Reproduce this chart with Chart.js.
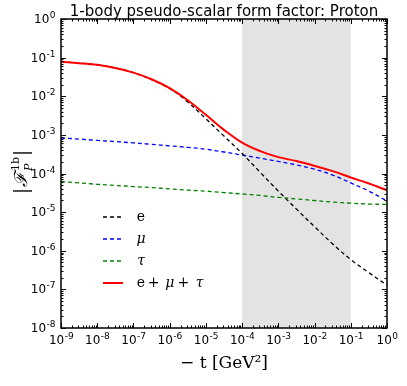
<!DOCTYPE html>
<html>
<head>
<meta charset="utf-8">
<script src="https://cdn.jsdelivr.net/npm/chart.js@4.4.1/dist/chart.umd.min.js"></script>
<style>
html,body{margin:0;padding:0;background:#fff;}
</style>
</head>
<body>
<canvas id="formFactor" width="407" height="386"></canvas>
<script>
// -t in GeV^2, half decade steps
const tValues = [1e-9, 3.16e-9, 1e-8, 3.16e-8, 1e-7, 3.16e-7, 1e-6, 3.16e-6, 1e-5, 3.16e-5,
                 1e-4, 3.16e-4, 1e-3, 3.16e-3, 1e-2, 3.16e-2, 1e-1, 3.16e-1, 1];
const electron = [7.8e-2, 7.2e-2, 6.5e-2, 5.4e-2, 4.1e-2, 2.7e-2, 1.58e-2, 7.1e-3, 2.6e-3, 9.3e-4,
                  3.3e-4, 1.07e-4, 3.5e-5, 1.2e-5, 4.2e-6, 1.5e-6, 5.9e-7, 2.7e-7, 1.29e-7];
const muon = [8.3e-4, 7.8e-4, 7.2e-4, 6.7e-4, 6.2e-4, 5.7e-4, 5.2e-4, 4.75e-4, 4.25e-4, 3.6e-4,
              3.0e-4, 2.5e-4, 2.05e-4, 1.66e-4, 1.29e-4, 9.1e-5, 5.7e-5, 3.5e-5, 1.95e-5];
const tauLep = [6.2e-5, 5.7e-5, 5.25e-5, 4.9e-5, 4.6e-5, 4.3e-5, 4.0e-5, 3.7e-5, 3.5e-5, 3.2e-5,
                2.95e-5, 2.7e-5, 2.4e-5, 2.2e-5, 2.0e-5, 1.82e-5, 1.7e-5, 1.62e-5, 1.58e-5];
const total = [7.8e-2, 7.2e-2, 6.5e-2, 5.4e-2, 4.1e-2, 2.75e-2, 1.62e-2, 7.9e-3, 3.3e-3, 1.35e-3,
               6.3e-4, 3.8e-4, 2.65e-4, 2.1e-4, 1.58e-4, 1.15e-4, 7.9e-5, 5.5e-5, 3.7e-5];
const xTicks = [1e-9, 1e-8, 1e-7, 1e-6, 1e-5, 1e-4, 1e-3, 1e-2, 1e-1, 1];
const yTicks = [1e-8, 1e-7, 1e-6, 1e-5, 1e-4, 1e-3, 1e-2, 1e-1, 1];
const bandFrom = 1e-4, bandTo = 1e-1;

const pts = arr => tValues.map((t, i) => ({x: t, y: arr[i]}));

function drawPow(ctx, v, x, y, align) {
  // "10" with raised exponent
  const e = String(Math.round(Math.log10(v)));
  ctx.font = '12px "DejaVu Sans"';
  const w1 = ctx.measureText('10').width;
  ctx.font = '9px "DejaVu Sans"';
  const w2 = ctx.measureText(e).width;
  let x0 = align === 'center' ? x - (w1 + w2) / 2 : x - (w1 + w2);
  ctx.textAlign = 'left';
  ctx.textBaseline = 'alphabetic';
  ctx.font = '12px "DejaVu Sans"';
  ctx.fillText('10', x0, y);
  ctx.font = '9px "DejaVu Sans"';
  ctx.fillText(e, x0 + w1 + 0.5, y - 5);
}

const decor = {
  id: 'decor',
  beforeDatasetsDraw(chart) {
    const {ctx, chartArea: a, scales: {x}} = chart;
    const x0 = x.getPixelForValue(bandFrom), x1 = x.getPixelForValue(bandTo);
    ctx.save();
    ctx.fillStyle = '#e3e3e3';
    ctx.fillRect(x0, a.top, x1 - x0, a.bottom - a.top);
    ctx.restore();
  },
  afterDraw(chart) {
    const {ctx, chartArea: a, scales: {x, y}} = chart;
    ctx.save();
    ctx.strokeStyle = '#000';
    ctx.lineWidth = 1;
    // minor + major ticks, inward, all sides
    ctx.beginPath();
    for (let d = 1e-9; d <= 1.01; d *= 10) {
      for (let k = 1; k <= 9; k++) {
        const v = d * k;
        if (v > 1.0001) break;
        const px = Math.round(x.getPixelForValue(v)) + 0.5, len = k === 1 ? 5 : 2.5;
        ctx.moveTo(px, a.bottom); ctx.lineTo(px, a.bottom - len);
        ctx.moveTo(px, a.top); ctx.lineTo(px, a.top + len);
      }
    }
    for (let d = 1e-8; d <= 1.01; d *= 10) {
      for (let k = 1; k <= 9; k++) {
        const v = d * k;
        if (v > 1.0001) break;
        const py = Math.round(y.getPixelForValue(v)) + 0.5, len = k === 1 ? 5 : 2.5;
        ctx.moveTo(a.left, py); ctx.lineTo(a.left + len, py);
        ctx.moveTo(a.right, py); ctx.lineTo(a.right - len, py);
      }
    }
    ctx.stroke();
    ctx.lineWidth = 1.5;
    ctx.strokeRect(a.left, a.top, a.right - a.left, a.bottom - a.top);

    // tick labels
    ctx.fillStyle = '#000';
    xTicks.forEach(v => drawPow(ctx, v, x.getPixelForValue(v), a.bottom + 16, 'center'));
    yTicks.forEach(v => drawPow(ctx, v, a.left - 6, y.getPixelForValue(v) + 4, 'right'));

    // title
    ctx.font = '15px "DejaVu Sans"';
    ctx.textAlign = 'center';
    ctx.fillText('1-body pseudo-scalar form factor: Proton', (a.left + a.right) / 2, 16);

    // x title
    ctx.font = '17px "DejaVu Serif"';
    ctx.fillText('\u2212 t [GeV\u00b2]', (a.left + a.right) / 2, 368);

    // y title, rotated
    ctx.save();
    ctx.translate(27, (a.top + a.bottom) / 2);
    ctx.rotate(-Math.PI / 2);
    const parts = [
      ['|', '18px "DejaVu Serif"', 0],
      ['\u2131', 'italic 18px "DejaVu Serif"', 0],
      ['1b', '11px "DejaVu Serif"', -8],
      ['|', '18px "DejaVu Serif"', 0]
    ];
    let wTot = 0;
    parts.forEach(p => { ctx.font = p[1]; wTot += ctx.measureText(p[0]).width; });
    let cx = -wTot / 2;
    ctx.textAlign = 'left';
    parts.forEach((p, i) => {
      ctx.font = p[1];
      ctx.fillText(p[0], cx, p[2]);
      const w = ctx.measureText(p[0]).width;
      if (i === 2) {
        ctx.font = 'italic 11px "DejaVu Serif"';
        ctx.fillText('P', cx, 5);
      }
      cx += w + 1;
    });
    ctx.restore();

    // legend inside plot
    chart.data.datasets.forEach((ds, i) => {
      const ly = a.top + 198 + i * 22;
      const lx = a.left + 42;
      ctx.beginPath();
      ctx.strokeStyle = ds.borderColor;
      ctx.lineWidth = ds.borderWidth;
      ctx.setLineDash(ds.borderDash || []);
      ctx.moveTo(lx, ly); ctx.lineTo(lx + 20, ly);
      ctx.stroke();
      ctx.setLineDash([]);
      let tx = lx + 38;
      ctx.fillStyle = '#000';
      ctx.textBaseline = 'middle';
      for (const ch of ds.label) {
        ctx.font = /[\u03bc\u03c4]/.test(ch) ? 'italic 14px "DejaVu Serif"' : '14px "DejaVu Serif"';
        ctx.fillText(ch, tx, ly);
        tx += ctx.measureText(ch).width;
      }
    });
    ctx.restore();
  }
};

new Chart(document.getElementById('formFactor'), {
  type: 'line',
  data: {
    datasets: [
      {label: 'e', data: pts(electron), borderColor: '#000000', borderDash: [4, 3], borderWidth: 1.3, order: 1},
      {label: '\u03bc', data: pts(muon), borderColor: '#0000ff', borderDash: [4, 3], borderWidth: 1.3, order: 1},
      {label: '\u03c4', data: pts(tauLep), borderColor: '#008000', borderDash: [4, 3], borderWidth: 1.3, order: 1},
      {label: 'e + \u03bc + \u03c4', data: pts(total), borderColor: '#ff0000', borderWidth: 2, order: 0}
    ]
  },
  options: {
    responsive: false,
    animation: false,
    layout: {padding: {left: 0, top: 19, right: 20, bottom: 0}},
    elements: {point: {radius: 0}, line: {tension: 0.4}},
    plugins: {legend: {display: false}, tooltip: {enabled: false}},
    scales: {
      x: {
        type: 'logarithmic', min: 1e-9, max: 1,
        grid: {display: false}, border: {display: false},
        ticks: {display: false},
        afterBuildTicks: s => { s.ticks = xTicks.map(v => ({value: v})); },
        afterFit: s => { s.height = 58; }
      },
      y: {
        type: 'logarithmic', min: 1e-8, max: 1,
        grid: {display: false}, border: {display: false},
        ticks: {display: false},
        afterBuildTicks: s => { s.ticks = yTicks.map(v => ({value: v})); },
        afterFit: s => { s.width = 61; }
      }
    }
  },
  plugins: [decor]
});
</script>
</body>
</html>
